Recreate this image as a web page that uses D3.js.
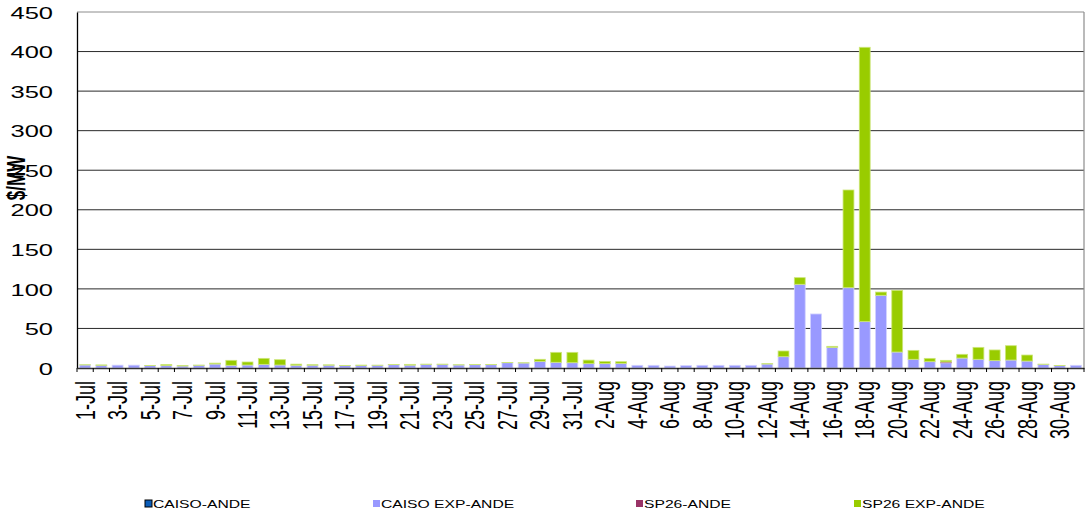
<!DOCTYPE html>
<html>
<head>
<meta charset="utf-8">
<script src="https://cdn.jsdelivr.net/npm/d3@7"></script>
<style>
  html, body { margin: 0; padding: 0; background: #fff; }
  svg { display: block; font-family: "Liberation Sans", Arial, sans-serif; }
</style>
</head>
<body>
<svg id="chart" width="1086" height="516"></svg>
<script>
// ---- data ----
const days = [];
for (let d = 1; d <= 31; d++) days.push(d + "-Jul");
for (let d = 1; d <= 31; d++) days.push(d + "-Aug");

const seriesNames = ["CAISO-ANDE", "CAISO EXP-ANDE", "SP26-ANDE", "SP26 EXP-ANDE"];
const seriesColors = ["#0a5cb8", "#9999ff", "#993366", "#99cc00"];

const caisoAnde = new Array(62).fill(0);

const caisoExpAnde = [
  3.8, 3.4, 3.6, 3.6, 3.0, 3.0, 2.5, 3.4, 5.0, 3.4, 3.8, 4.6, 3.8, 3.4, 3.5, 3.5,
  3.0, 3.2, 3.4, 4.2, 3.6, 4.6, 4.6, 3.8, 4.2, 4.2, 6.7, 6.3, 8.4, 7.2, 6.7,
  5.5, 5.5, 5.9, 3.4, 3.4, 2.5, 3.0, 3.4, 3.4, 3.4, 3.4, 5.0, 14.3, 105.8, 68.3,
  26.1, 101.5, 58.6, 91.9, 20.2, 11.0, 8.0, 6.5, 12.6, 11.0, 9.3, 10.1, 8.8, 4.6, 3.0, 3.4
];

const sp26Ande = [
  0, 0, 0, 0, 0, 0, 0, 0, 0, 0, 0, 0, 0, 0, 0, 0,
  0, 0, 0, 0, 0, 0, 0, 0, 0, 0, 0, 0, 0, 0, 0,
  0, 0, 0, 0, 0, 0, 0, 0, 0, 0, 0, 0, 0, 0, 0,
  0, 0, 0, 0, 0, 0, 0, 1.2, 0, 0, 0, 0, 0, 0, 0, 0
];

const sp26ExpAnde = [
  0.3, 0.5, 0, 0, 0.3, 1.5, 0.8, 0.3, 1.2, 6.3, 3.8, 7.6, 6.7, 1.5, 0.7, 0.5,
  0.3, 0.5, 0.2, 0.3, 1.0, 0.3, 0.3, 0.3, 0.3, 0.3, 0.3, 0.3, 2.6, 12.6, 13.1,
  4.5, 2.9, 2.1, 0, 0, 0, 0, 0, 0, 0, 0, 0.5, 7.2, 8.4, 0,
  1.3, 123.5, 346.8, 4.1, 78.0, 11.3, 4.2, 2.0, 4.7, 15.1, 13.5, 18.1, 7.6, 0.3, 0.3, 0
];

const yTicks = [0, 50, 100, 150, 200, 250, 300, 350, 400, 450];
const yTitle = "$/MW";

// ---- layout ----
const svg = d3.select("#chart");
const pLeft = 77, pRight = 1084, pTop = 12, pBottom = 368;
const SX = 1.5; // horizontal text stretch seen in the reference

const x = d3.scaleBand().domain(days).range([pLeft, pRight]).paddingInner(0.33).paddingOuter(0.165);
const y = d3.scaleLinear().domain([0, 450]).range([pBottom, pTop]);

const rows = days.map((d, i) => ({
  day: d,
  "CAISO-ANDE": caisoAnde[i],
  "CAISO EXP-ANDE": caisoExpAnde[i],
  "SP26-ANDE": sp26Ande[i],
  "SP26 EXP-ANDE": sp26ExpAnde[i]
}));
const stack = d3.stack().keys(seriesNames)(rows);

// gridlines
svg.append("g").selectAll("line").data(yTicks.filter(t => t > 0)).join("line")
  .attr("x1", pLeft).attr("x2", pRight)
  .attr("y1", d => y(d)).attr("y2", d => y(d))
  .attr("stroke", d => d === 450 ? "#8c8c8c" : "#2a2a2a").attr("stroke-width", 1);

// right border
svg.append("line").attr("x1", pRight).attr("x2", pRight).attr("y1", pTop).attr("y2", pBottom)
  .attr("stroke", "#8c8c8c").attr("stroke-width", 1.2);

// bars
const strokeColors = ["#5a8fd0", "#d2d2ff", "#c090a8", "#cde67a"];
svg.append("g").selectAll("g").data(stack).join("g")
  .attr("fill", (s, i) => seriesColors[i])
  .attr("stroke", (s, i) => strokeColors[i])
  .attr("stroke-width", 0.8)
  .selectAll("rect").data(s => s.filter(p => p[1] - p[0] > 0)).join("rect")
  .attr("x", p => x(p.data.day))
  .attr("width", x.bandwidth())
  .attr("y", p => y(p[1]))
  .attr("height", p => y(p[0]) - y(p[1]));

// y axis
const yAxis = svg.append("g").attr("transform", `translate(${pLeft},0)`)
  .call(d3.axisLeft(y).tickValues(yTicks).tickSize(0).tickPadding(0));
yAxis.select(".domain").attr("stroke", "#000").attr("stroke-width", 1.3);
yAxis.selectAll("text")
  .attr("x", -24 / SX).attr("dy", "0.36em")
  .attr("transform", `scale(${SX},1)`)
  .attr("font-size", 17).attr("fill", "#000")
  .style("font-family", '"Liberation Sans", Arial, sans-serif');

// x axis
const step = x.step();
const gap = (step - x.bandwidth()) / 2;
const xAxis = svg.append("g").attr("transform", `translate(0,${pBottom})`)
  .call(d3.axisBottom(x).tickValues(days.filter((d, i) => i % 2 === 0)).tickSize(0).tickPadding(0));
xAxis.select(".domain").attr("stroke", "#333").attr("stroke-width", 1.5);
xAxis.selectAll("text")
  .attr("x", -13).attr("y", 0).attr("dy", "0.35em")
  .attr("text-anchor", "end")
  .attr("transform", `scale(${SX},1) rotate(-90)`)
  .attr("font-size", 18).attr("fill", "#000")
  .style("font-family", '"Liberation Sans", Arial, sans-serif');

// boundary tick marks
const bounds = days.map(d => x(d) - gap).concat([x(days[days.length - 1]) + x.bandwidth() + gap]);
svg.append("g").selectAll("line").data(bounds).join("line")
  .attr("x1", d => d).attr("x2", d => d)
  .attr("y1", pBottom).attr("y2", pBottom + 4)
  .attr("stroke", "#000").attr("stroke-width", 1);

// y title
svg.append("text")
  .attr("transform", `translate(16,178) scale(${SX},1) rotate(-90)`)
  .attr("text-anchor", "middle").attr("dy", "0.35em")
  .attr("font-size", 17).attr("font-weight", "bold")
  .text(yTitle);

// legend
const legendX = [146, 374, 637, 855];
const lg = svg.append("g").selectAll("g").data(seriesNames).join("g")
  .attr("transform", (d, i) => `translate(${legendX[i]},504)`);
lg.append("rect").attr("x", -1).attr("y", -4).attr("width", 7).attr("height", 7)
  .attr("fill", (d, i) => seriesColors[i])
  .attr("stroke", (d, i) => i === 0 ? "#000" : "none").attr("stroke-width", 1);
lg.append("text")
  .attr("transform", `translate(7,0) scale(${SX * 0.95},1)`)
  .attr("dy", "0.35em").attr("font-size", 11).attr("fill", "#000")
  .text(d => d);
</script>
</body>
</html>
